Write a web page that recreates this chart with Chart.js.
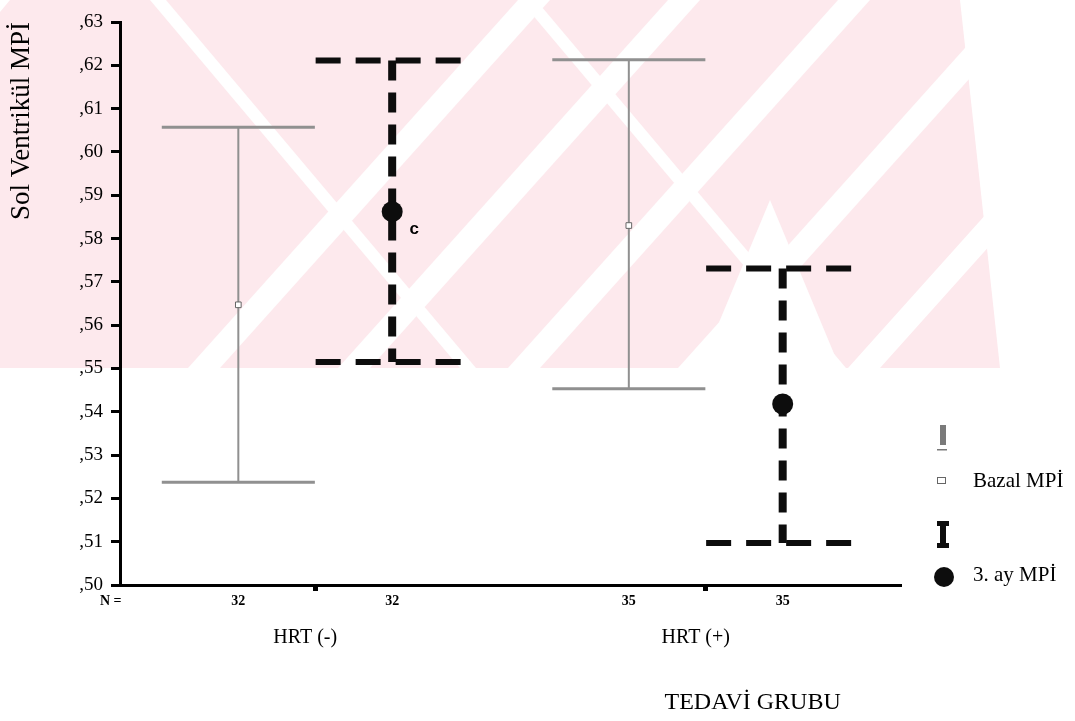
<!DOCTYPE html>
<html>
<head>
<meta charset="utf-8">
<script src="https://cdn.jsdelivr.net/npm/chart.js@4/dist/chart.umd.min.js"></script>
<style>
  html, body { margin: 0; padding: 0; background: #ffffff; }
  #wrap { width: 1075px; height: 721px; }
</style>
</head>
<body>
<div id="wrap"><canvas id="c" width="1075" height="721"></canvas></div>
<script>
// ---------------- data ----------------
const categories = ['HRT (-)', 'HRT (+)'];
const seriesNames = ['Bazal MPİ', '3. ay MPİ'];
const nBazal = [32, 35];
const nAy3 = [32, 35];
const bazalMean = [0.5647, 0.5830];
const bazalLow  = [0.5237, 0.5453];
const bazalHigh = [0.6057, 0.6213];
const ay3Mean = [0.5862, 0.5418];
const ay3Low  = [0.5515, 0.5097];
const ay3High = [0.6211, 0.5731];
const yTickValues = [0.50, 0.51, 0.52, 0.53, 0.54, 0.55, 0.56, 0.57, 0.58, 0.59, 0.60, 0.61, 0.62, 0.63];
const yTickLabels = [',50', ',51', ',52', ',53', ',54', ',55', ',56', ',57', ',58', ',59', ',60', ',61', ',62', ',63'];
const sigMarks = ['c', ''];   // annotation beside 3. ay mean
const yTitle = 'Sol Ventrikül MPİ';
const xTitle = 'TEDAVİ GRUBU';
const nLabel = 'N =';

// ---------------- build ----------------
const OFF = 0.197;   // cluster offset in category units
const CAP = 0.196;   // cap half width
function pos(i, s) { return (i + 1) + (s === 0 ? -OFF : OFF); }

function vertical(low, high, s) {
  const d = [];
  categories.forEach((c, i) => {
    d.push({x: pos(i, s), y: high[i]}, {x: pos(i, s), y: low[i]}, {x: pos(i, s), y: null});
  });
  return d;
}
function caps(low, high, s) {
  const d = [];
  categories.forEach((c, i) => {
    const p = pos(i, s);
    d.push({x: p - CAP, y: high[i]}, {x: p + CAP, y: high[i]}, {x: p + CAP, y: null});
    d.push({x: p - CAP, y: low[i]}, {x: p + CAP, y: low[i]}, {x: p + CAP, y: null});
  });
  return d;
}
function means(m, s) { return categories.map((c, i) => ({x: pos(i, s), y: m[i]})); }

const SERIF = '"Liberation Serif", "DejaVu Serif", serif';
const GRAY = '#909090';
const BLACK = '#0d0d0d';

const datasets = [
  { label: seriesNames[0] + ' bar', data: vertical(bazalLow, bazalHigh, 0), borderColor: GRAY, borderWidth: 2, pointRadius: 0, spanGaps: false, order: 3 },
  { label: seriesNames[0] + ' cap', data: caps(bazalLow, bazalHigh, 0), borderColor: GRAY, borderWidth: 3, pointRadius: 0, spanGaps: false, order: 3 },
  { label: seriesNames[0], data: means(bazalMean, 0), showLine: false, pointStyle: 'rect', pointRadius: 4, backgroundColor: '#ffffff', borderColor: '#666666', pointBorderWidth: 1, order: 1 },
  { label: seriesNames[1] + ' bar', data: vertical(ay3Low, ay3High, 1), borderColor: BLACK, borderWidth: 8, borderDash: [20, 12], borderCapStyle: 'butt', pointRadius: 0, spanGaps: false, order: 2 },
  { label: seriesNames[1] + ' cap', data: caps(ay3Low, ay3High, 1), borderColor: BLACK, borderWidth: 6, borderDash: [25, 15], borderCapStyle: 'butt', pointRadius: 0, spanGaps: false, order: 2 },
  { label: seriesNames[1], data: means(ay3Mean, 1), showLine: false, pointStyle: 'circle', pointRadius: 10.5, backgroundColor: BLACK, borderColor: BLACK, pointBorderWidth: 0, order: 0 }
];

// ---------------- plugins ----------------
const bgPlugin = {
  id: 'bg',
  beforeDraw(chart) {
    const ctx = chart.ctx;
    ctx.save();
    ctx.fillStyle = '#ffffff';
    ctx.fillRect(0, 0, chart.width, chart.height);
    // faint scanned watermark
    ctx.beginPath();
    ctx.rect(0, 0, 1040, 368);
    ctx.clip();
    ctx.fillStyle = 'rgb(253,233,237)';
    ctx.fillRect(0, 0, 1040, 368);
    ctx.fillStyle = '#ffffff';
    const poly = pts => { ctx.beginPath(); ctx.moveTo(pts[0][0], pts[0][1]); for (let k = 1; k < pts.length; k++) ctx.lineTo(pts[k][0], pts[k][1]); ctx.closePath(); ctx.fill(); };
    // "/" white stripes
    [210, 360, 530, 700, 870, 1040].forEach(b => {
      poly([[b - 22, 368], [b + 10, 368], [b + 10 + 330, 0], [b - 22 + 330, 0]]);
    });
    // "\" white stripes
    [150, 520].forEach(t => {
      poly([[t, 0], [t + 16, 0], [t + 16 + 310, 368], [t + 310, 368]]);
    });
    // white notches
    poly([[0, 0], [10, 0], [0, 12]]);
    poly([[960, 0], [1040, 0], [1040, 368], [1000, 368]]);
    poly([[700, 368], [770, 200], [840, 368]]);
    ctx.restore();
  }
};

const textPlugin = {
  id: 'texts',
  afterDraw(chart) {
    const ctx = chart.ctx;
    const xs = chart.scales.x, ys = chart.scales.y;
    const ca = chart.chartArea;
    ctx.save();
    ctx.fillStyle = '#000';
    // N row
    ctx.font = 'bold 14px ' + SERIF;
    ctx.textBaseline = 'middle';
    ctx.textAlign = 'left';
    ctx.fillText(nLabel, ca.left - 20, ca.bottom + 16);
    ctx.textAlign = 'center';
    categories.forEach((c, i) => {
      ctx.fillText(String(nBazal[i]), xs.getPixelForValue(pos(i, 0)), ca.bottom + 16);
      ctx.fillText(String(nAy3[i]), xs.getPixelForValue(pos(i, 1)), ca.bottom + 16);
    });
    // annotation letters
    ctx.font = 'bold 17px "Liberation Sans", Arial, sans-serif';
    categories.forEach((c, i) => {
      if (sigMarks[i]) ctx.fillText(sigMarks[i], xs.getPixelForValue(pos(i, 1)) + 22, ys.getPixelForValue(ay3Mean[i]) + 18);
    });
    // x title
    ctx.font = '24px ' + SERIF;
    ctx.textAlign = 'center';
    ctx.fillText(xTitle, ca.left + (ca.right - ca.left) * 0.81, 703);
    // legend
    const lx = 943;
    ctx.fillStyle = '#7a7a7a';
    ctx.fillRect(lx - 3, 425, 6, 20);
    ctx.fillRect(lx - 6, 449, 10, 1.5);
    ctx.strokeStyle = '#666';
    ctx.lineWidth = 1;
    ctx.strokeRect(lx - 5.5, 477.5, 8, 6);
    ctx.fillStyle = BLACK;
    ctx.fillRect(lx - 6, 521, 12, 5);
    ctx.fillRect(lx - 3, 521, 6, 26);
    ctx.fillRect(lx - 6, 543, 12, 5);
    ctx.beginPath();
    ctx.arc(lx + 1, 577, 10, 0, Math.PI * 2);
    ctx.fill();
    ctx.fillStyle = '#000';
    ctx.font = '21px ' + SERIF;
    ctx.textAlign = 'left';
    ctx.fillText(seriesNames[0], 973, 481);
    ctx.fillText(seriesNames[1], 973, 575);
    ctx.restore();
  }
};

new Chart(document.getElementById('c'), {
  type: 'line',
  data: { datasets },
  options: {
    responsive: false,
    animation: false,
    devicePixelRatio: 1,
    layout: { padding: { left: 0, right: 174, top: 22, bottom: 0 } },
    plugins: { legend: { display: false }, tooltip: { enabled: false } },
    scales: {
      x: {
        type: 'linear', min: 0.5, max: 2.5,
        afterFit(s) { s.height = 136; },
        afterBuildTicks(s) { s.ticks = categories.map((c, i) => ({ value: i + 1 })); },
        ticks: {
          callback: (v) => categories[Math.round(v) - 1] || '',
          font: { family: SERIF, size: 20 }, color: '#000', padding: 35, labelOffset: -10, maxRotation: 0
        },
        grid: { drawOnChartArea: false, drawTicks: true, tickLength: 6, tickWidth: 5, color: '#000', tickColor: '#000' },
        border: { display: true, color: '#000', width: 3 }
      },
      y: {
        type: 'linear', min: 0.50, max: 0.63,
        afterFit(s) { s.width = 120; },
        afterBuildTicks(s) { s.ticks = yTickValues.map(v => ({ value: v })); },
        ticks: {
          callback: (v) => { const k = yTickValues.findIndex(t => Math.abs(t - v) < 1e-6); return k >= 0 ? yTickLabels[k] : ''; },
          font: { family: SERIF, size: 19 }, color: '#000', padding: 8
        },
        grid: { drawOnChartArea: false, drawTicks: true, tickLength: 9, tickWidth: 3, color: '#000', tickColor: '#000' },
        border: { display: true, color: '#000', width: 3 },
        title: { display: true, text: yTitle, align: 'end', font: { family: SERIF, size: 27 }, color: '#000', padding: { top: 6, bottom: 0 } }
      }
    }
  },
  plugins: [bgPlugin, textPlugin]
});
</script>
</body>
</html>
